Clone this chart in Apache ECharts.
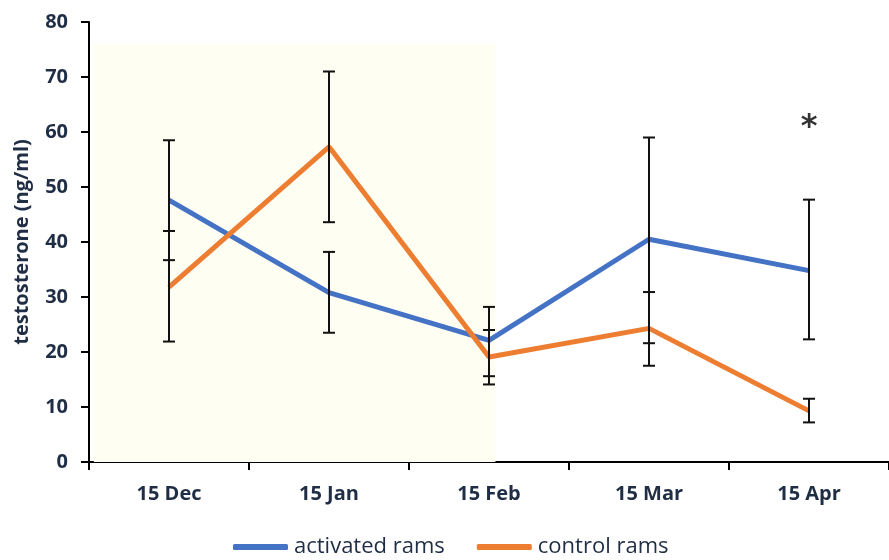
<!DOCTYPE html>
<html>
<head>
<meta charset="utf-8">
<script src="https://cdn.jsdelivr.net/npm/echarts@6/dist/echarts.min.js"></script>
<style>
  html, body { margin: 0; padding: 0; background: #fff; }
  #chart { width: 889px; height: 560px; }
</style>
</head>
<body>
<div id="chart"></div>
<script>
// data
var categories = ['15 Dec', '15 Jan', '15 Feb', '15 Mar', '15 Apr'];
var activated = [47.6, 30.8, 22.1, 40.5, 34.8];
var activatedLow = [36.7, 23.5, 15.6, 21.6, 22.3];
var activatedHigh = [58.5, 38.2, 28.2, 59.0, 47.7];
var control = [31.8, 57.3, 19.1, 24.3, 9.3];
var controlLow = [21.9, 43.6, 14.1, 17.5, 7.2];
var controlHigh = [42.0, 71.0, 24.0, 30.9, 11.5];
var starMarks = [[4, 60.7]];
// shaded period (in category units, -0.5 .. 4.5) and its top value
var shadeX = [-0.47, 2.04];
var shadeTop = 76;

var textColor = '#1f2d45';

function errData(low, high) {
  var out = [];
  for (var i = 0; i < low.length; i++) out.push([i, low[i], high[i]]);
  return out;
}

function renderErr(params, api) {
  var lo = api.coord([api.value(0), api.value(1)]);
  var hi = api.coord([api.value(0), api.value(2)]);
  var half = 6;
  var st = { stroke: '#111', lineWidth: 2 };
  return {
    type: 'group',
    children: [
      { type: 'line', shape: { x1: lo[0], y1: lo[1], x2: hi[0], y2: hi[1] }, style: st },
      { type: 'line', shape: { x1: lo[0] - half, y1: lo[1], x2: lo[0] + half, y2: lo[1] }, style: st },
      { type: 'line', shape: { x1: hi[0] - half, y1: hi[1], x2: hi[0] + half, y2: hi[1] }, style: st }
    ]
  };
}

function renderShade(params, api) {
  var a = api.coord([api.value(0), 0]);
  var b = api.coord([api.value(1), api.value(2)]);
  return {
    type: 'rect',
    shape: { x: a[0], y: b[1], width: b[0] - a[0], height: a[1] - b[1] },
    style: { fill: '#fefef3' }
  };
}

var chart = echarts.init(document.getElementById('chart'));
chart.setOption({
  animation: false,
  grid: { left: 89, right: -5, top: 22, bottom: 98 },
  legend: {
    bottom: -3,
    left: 228,
    icon: 'roundRect',
    itemWidth: 55,
    itemHeight: 6,
    itemGap: 32,
    textStyle: { color: textColor, fontSize: 22, fontFamily: 'Open Sans', padding: [0, 0, 0, 1] },
    data: ['activated rams', 'control rams']
  },
  xAxis: [{
    type: 'category',
    data: categories,
    axisLine: { onZero: false, lineStyle: { color: '#000', width: 2 } },
    axisTick: { show: true, length: 8, lineStyle: { color: '#000', width: 2 } },
    axisLabel: { color: textColor, fontSize: 20, fontWeight: 'bold', fontFamily: 'Open Sans', margin: 22 }
  }, {
    type: 'value',
    min: -0.5,
    max: 4.5,
    show: false
  }],
  yAxis: {
    type: 'value',
    min: 0,
    max: 80,
    interval: 10,
    name: 'testosterone (ng/ml)',
    nameLocation: 'middle',
    nameGap: 57,
    nameTextStyle: { color: textColor, fontSize: 20, fontWeight: 'bold', fontFamily: 'Open Sans' },
    axisLine: { show: true, onZero: false, lineStyle: { color: '#000', width: 2 } },
    axisTick: { show: true, length: 8, lineStyle: { color: '#000', width: 2 } },
    splitLine: { show: false },
    axisLabel: { color: textColor, fontSize: 20, fontWeight: 'bold', fontFamily: 'Open Sans', margin: 21 }
  },
  series: [
    {
      type: 'custom',
      xAxisIndex: 1,
      renderItem: renderShade,
      data: [[shadeX[0], shadeX[1], shadeTop]],
      silent: true,
      z: 1
    },
    {
      name: 'activated rams',
      type: 'line',
      data: activated,
      symbol: 'none',
      lineStyle: { color: '#4472c4', width: 5 },
      itemStyle: { color: '#4472c4' },
      z: 3
    },
    {
      name: 'control rams',
      type: 'line',
      data: control,
      symbol: 'none',
      lineStyle: { color: '#ed7d31', width: 5 },
      itemStyle: { color: '#ed7d31' },
      z: 3
    },
    {
      type: 'custom',
      renderItem: renderErr,
      data: errData(activatedLow, activatedHigh),
      z: 4
    },
    {
      type: 'custom',
      renderItem: renderErr,
      data: errData(controlLow, controlHigh),
      z: 4
    },
    {
      type: 'scatter',
      data: starMarks,
      symbolSize: 0,
      label: {
        show: true,
        position: 'inside',
        formatter: '*',
        color: '#000',
        fontSize: 32,
        fontWeight: 'bold',
        fontFamily: 'DejaVu Sans'
      }
    }
  ]
});
</script>
</body>
</html>
